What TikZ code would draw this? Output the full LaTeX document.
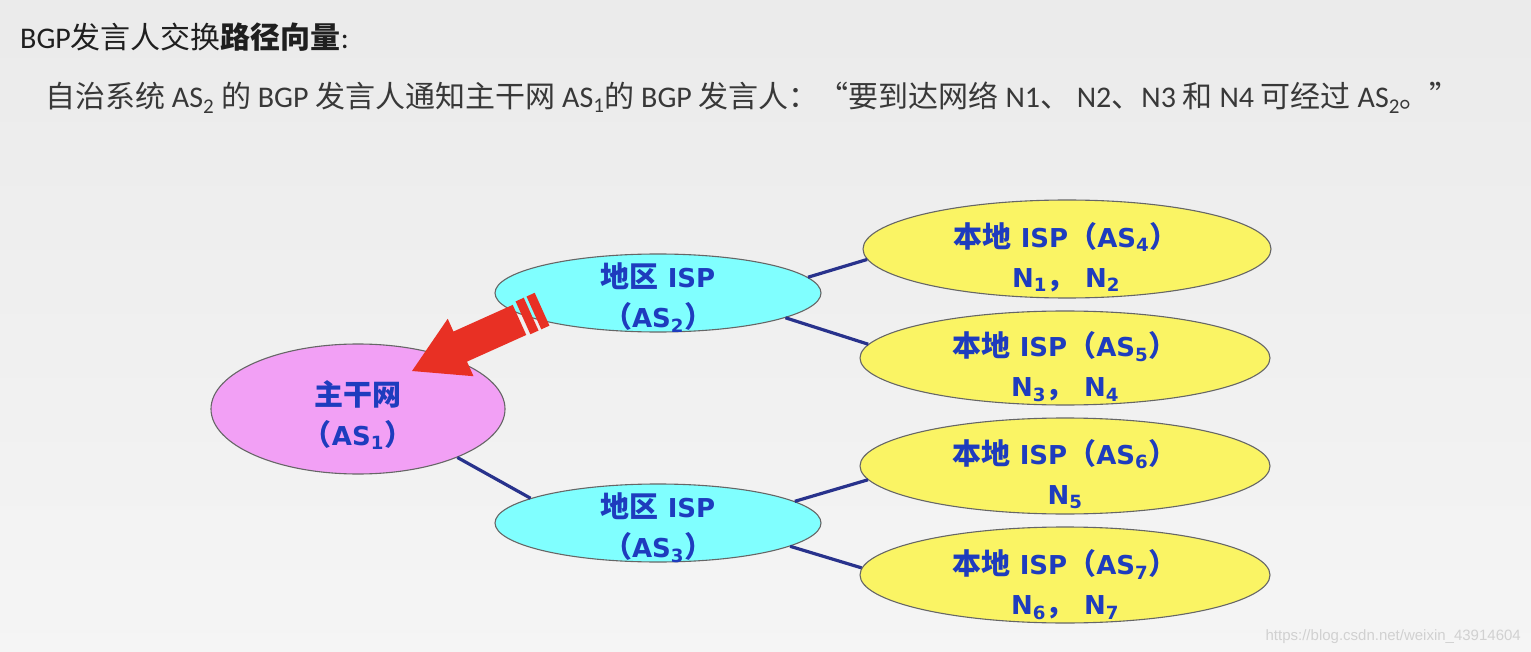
\documentclass[tikz,border=0pt]{standalone}
\usepackage{fontspec}
\setmainfont{Carlito}
\newfontfamily\cjk{Noto Sans CJK SC}
\newfontfamily\dvs{DejaVu Sans}
\newfontfamily\lib{Liberation Sans}
\usetikzlibrary{shapes.geometric}
\definecolor{cpink}{RGB}{242,160,245}
\definecolor{ccyan}{RGB}{128,255,255}
\definecolor{cyel}{RGB}{250,244,100}
\definecolor{tblue}{RGB}{30,60,190}
\definecolor{lnk}{RGB}{40,50,140}
\definecolor{cred}{RGB}{232,48,36}
\newcommand\zh[1]{{\cjk #1}}
\newcommand\zd[1]{{\fontsize{29}{40}\selectfont\cjk #1}}
\begin{document}
\begin{tikzpicture}[x=1pt,y=-1pt,
  bub/.style={ellipse, draw=black!60, line width=1.1pt, inner sep=0pt},
  lbl/.style={font=\fontsize{26}{40}\selectfont\dvs\bfseries, text=tblue, align=center, inner sep=0pt},
  link/.style={draw=lnk, line width=3.2pt},
  txt/.style={anchor=base west, inner sep=0pt}]
\useasboundingbox (0,0) rectangle (1531,652);
\shade[top color=black!8, middle color=white, bottom color=black!4] (0,0) rectangle (1531,652);

\node[txt, font=\fontsize{30}{36}\selectfont, text=black!88] (title) at (20,49)
  {BGP\zh{发言人交换}{\bfseries\zh{路径向量}}:};
\node[txt, font=\fontsize{30}{36}\selectfont, text=black!78] (intro) at (45,108)
  {\zh{自治系统} AS\textsubscript{2} \zh{的} BGP \zh{发言人通知主干网} AS\textsubscript{1}\zh{的} BGP \zh{发言人：“要到达网络} N1\zh{、} N2\zh{、}N3 \zh{和} N4 \zh{可经过} AS\textsubscript{2}\zh{。”}};

\node[bub, fill=cpink, minimum width=294pt, minimum height=130pt] (as1) at (358,409) {};
\node[bub, fill=ccyan, minimum width=326pt, minimum height=78pt] (as2) at (658,293) {};
\node[bub, fill=ccyan, minimum width=326pt, minimum height=78pt] (as3) at (658,523) {};
\node[bub, fill=cyel, minimum width=408pt, minimum height=98pt] (as4) at (1067,249) {};
\node[bub, fill=cyel, minimum width=410pt, minimum height=94pt] (as5) at (1065,358) {};
\node[bub, fill=cyel, minimum width=410pt, minimum height=96pt] (as6) at (1065,466) {};
\node[bub, fill=cyel, minimum width=410pt, minimum height=96pt] (as7) at (1065,575) {};

\draw[link] (as2.6) -- (as4.183);
\draw[link] (as2.349) -- (as5.176);
\draw[link] (as1.334) -- (as3.169);
\draw[link] (as3.9) -- (as6.184);
\draw[link] (as3.350) -- (as7.178);

\node[lbl] (as1t) at (358,415) {\zd{主干网}\\\zd{（}AS\textsubscript{1}\zd{）}};
\node[lbl] (as2t) at (658,298) {\zd{地区} ISP\\\zd{（}AS\textsubscript{2}\zd{）}};
\node[lbl] (as3t) at (658,528) {\zd{地区} ISP\\\zd{（}AS\textsubscript{3}\zd{）}};
\node[lbl] (as4t) at (1066,257) {\zd{本地} ISP\zd{（}AS\textsubscript{4}\zd{）}\\N\textsubscript{1}\zd{，} N\textsubscript{2}};
\node[lbl] (as5t) at (1065,367) {\zd{本地} ISP\zd{（}AS\textsubscript{5}\zd{）}\\N\textsubscript{3}\zd{，} N\textsubscript{4}};
\node[lbl] (as6t) at (1065,474) {\zd{本地} ISP\zd{（}AS\textsubscript{6}\zd{）}\\N\textsubscript{5}};
\node[lbl] (as7t) at (1065,585) {\zd{本地} ISP\zd{（}AS\textsubscript{7}\zd{）}\\N\textsubscript{6}\zd{，} N\textsubscript{7}};

\begin{scope}[shift={(412,371)}, x={(0.912pt,0.410pt)}, y={(0.410pt,-0.912pt)}]
  \fill[cred] (0,0) -- (54,-33) -- (54,-19) -- (119,-19) -- (119,14) -- (54,14) -- (54,30) -- cycle;
  \fill[cred] (123,-21) -- (132,-21) -- (132,15) -- (123,15) -- cycle;
  \fill[cred] (135,-21) -- (144,-21) -- (144,15) -- (135,15) -- cycle;
\end{scope}

\node[anchor=base east, inner sep=0pt, font=\fontsize{15}{18}\selectfont\lib, text=black!18] (wm) at (1521,640) {https://blog.csdn.net/weixin\_43914604};
\end{tikzpicture}
\end{document}
